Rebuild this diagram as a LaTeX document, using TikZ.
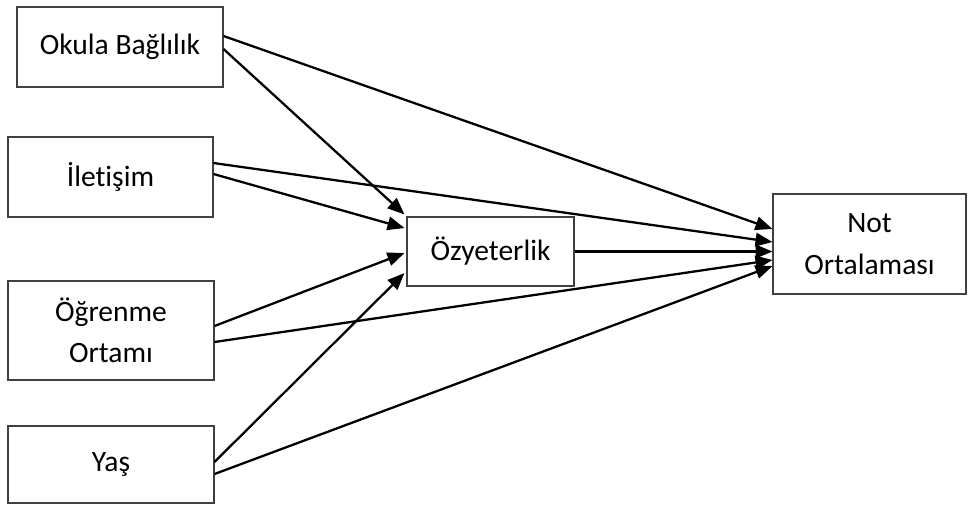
\documentclass[tikz,border=0pt]{standalone}
\usepackage{fontspec}
\setmainfont[RawFeature=-liga]{Carlito}
\usetikzlibrary{arrows.meta}

\begin{document}
\begin{tikzpicture}[x=0.02cm, y=-0.02cm]
		\tikzstyle{VarBox} = [rectangle, draw=black!75, line width=0.6pt, text centered, align=center, inner sep=0pt, font=\fontsize{16.8}{23.5}\selectfont]
		\tikzstyle{arrow} = [line width=1.3pt, -{Triangle[length=0.34cm, width=0.27cm]}]
		
		\useasboundingbox (0,0) rectangle (968,505);
		
		% predictors on the left
		\node (okulaBox) [VarBox, minimum width=4.12cm, minimum height=1.6cm] at (120,47) {Okula Bağlılık};
		\node (iletisimBox) [VarBox, minimum width=4.1cm, minimum height=1.6cm] at (110.5,177) {İletişim};
		\node (ogrenmeBox) [VarBox, minimum width=4.12cm, minimum height=1.98cm] at (111,330.5) {Öğrenme\\Ortamı};
		\node (yasBox) [VarBox, minimum width=4.12cm, minimum height=1.54cm] at (111,464.5) {Yaş};
		
		% mediator and outcome
		\node (ozBox) [VarBox, minimum width=3.34cm, minimum height=1.38cm] at (490.5,251.5) {Özyeterlik};
		\node (notBox) [VarBox, minimum width=3.86cm, minimum height=2cm] at (869.5,244) {Not\\Ortalaması};
		
		\draw[arrow] ([yshift=0.22cm]okulaBox.east) -- ([yshift=0.3cm]notBox.west);
		\draw[arrow] ([yshift=-0.04cm]okulaBox.east) -- ([shift={(-0.04cm,0.04cm)}]ozBox.north west);
		\draw[arrow] ([yshift=0.28cm]iletisimBox.east) -- ([yshift=0.04cm]notBox.west);
		\draw[arrow] ([yshift=0.06cm]iletisimBox.east) -- ([shift={(-0.04cm,0.47cm)}]ozBox.west);
		\draw[arrow] (ozBox.east) -- (ozBox.east -| notBox.west);
		\draw[arrow] ([yshift=0.09cm]ogrenmeBox.east) -- ([shift={(-0.04cm,-0.03cm)}]ozBox.west);
		\draw[arrow] ([yshift=-0.23cm]ogrenmeBox.east) -- ([yshift=-0.32cm]notBox.west);
		\draw[arrow] ([yshift=0.05cm]yasBox.east) -- ([shift={(-0.04cm,-0.43cm)}]ozBox.west);
		\draw[arrow] ([yshift=-0.19cm]yasBox.east) -- ([yshift=-0.44cm]notBox.west);
\end{tikzpicture}
\end{document}
